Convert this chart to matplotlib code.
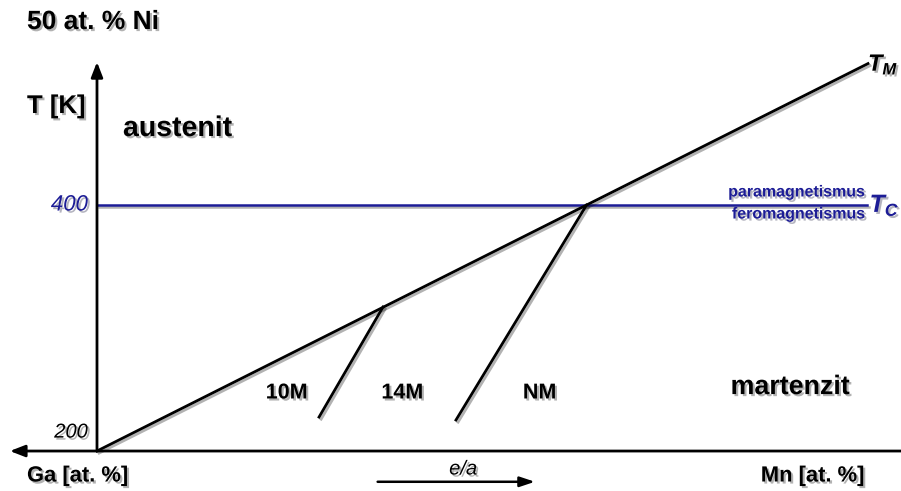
import matplotlib.pyplot as plt
import matplotlib.patheffects as pe

plt.rcParams["font.family"] = "Liberation Sans"
plt.rcParams["mathtext.fontset"] = "custom"
plt.rcParams["mathtext.it"] = "Liberation Sans:italic:bold"
plt.rcParams["mathtext.rm"] = "Liberation Sans:bold"

# schematic phase diagram, x = relative composition (0 = origin), y = T [K]
tm_x = [0, 100]
tm_T = [200, 515]
tc_x = [0, 99.9]
tc_T = [400, 400]
b10_x = [37.1, 28.8]        # 10M / 14M boundary
b10_T = [317.1, 227.6]
bnm_x = [63.5, 46.56]       # 14M / NM boundary
bnm_T = [400, 225.2]

phase_labels = ["10M", "14M", "NM"]
phase_x = [24.6, 39.6, 57.4]
phase_T = [247.2, 247.2, 247.2]

BLUE = "#1c1c96"
shadow_line = [pe.SimpleLineShadow(offset=(1.5, -1.5), alpha=0.3), pe.Normal()]
shadow_txt = [pe.withSimplePatchShadow(offset=(1.5, -1.5), alpha=0.3)]

fig = plt.figure(figsize=(9.01, 4.91), dpi=100)
ax = fig.add_axes([0, 0, 1, 1])
ax.set_xlim(-12.58, 104.28)
ax.set_ylim(167.5, 566.7)
ax.axis("off")

# axes with arrows
arrow_kw = dict(arrowstyle="-|>,head_length=0.9,head_width=0.35", color="black", lw=2,
                shrinkA=0, shrinkB=0)
ax.annotate("", xy=(0, 516.3), xytext=(0, 200), arrowprops=arrow_kw)
ax.annotate("", xy=(-11.3, 200), xytext=(104.3, 200), arrowprops=arrow_kw)
ax.annotate("", xy=(56.8, 175), xytext=(36.4, 175),
            arrowprops=dict(arrowstyle="-|>,head_length=0.9,head_width=0.3", color="black",
                            lw=1.8, shrinkA=0, shrinkB=0))

ax.plot(tc_x, tc_T, color=BLUE, lw=1.8, path_effects=shadow_line)
ax.plot(tm_x, tm_T, color="black", lw=2, path_effects=shadow_line)
ax.plot(b10_x, b10_T, color="black", lw=2, path_effects=shadow_line)
ax.plot(bnm_x, bnm_T, color="black", lw=2, path_effects=shadow_line)

bold = dict(fontweight="bold", path_effects=shadow_txt)
ax.text(-9.08, 548.8, "50 at. % Ni", fontsize=19, ha="left", va="center", **bold)
ax.text(-9.08, 480.5, "T [K]", fontsize=18.5, ha="left", va="center", **bold)
ax.text(3.37, 461.8, "austenit", fontsize=20.5, ha="left", va="center", **bold)
ax.text(89.9, 252, "martenzit", fontsize=19.3, ha="center", va="center", **bold)
for lab, x, t in zip(phase_labels, phase_x, phase_T):
    ax.text(x, t, lab, fontsize=15.5, ha="center", va="center", **bold)
ax.text(-9.08, 179.7, "Ga [at. %]", fontsize=15.8, ha="left", va="center", **bold)
ax.text(99.6, 179.7, "Mn [at. %]", fontsize=15.8, ha="right", va="center", **bold)

ax.text(-1.17, 400, "400", fontsize=16, style="italic", color=BLUE, ha="right",
        va="center", path_effects=shadow_txt)
ax.text(-1.17, 215.4, "200", fontsize=14.5, style="italic", color="black", ha="right",
        va="center", path_effects=shadow_txt)
ax.text(47.5, 185.4, "e/a", fontsize=14.5, style="italic", ha="center", va="center",
        path_effects=shadow_txt)

ax.text(99.7, 410.6, "paramagnetismus", fontsize=11.5, color=BLUE, ha="right",
        va="center", **bold)
ax.text(99.7, 392.7, "feromagnetismus", fontsize=11.5, color=BLUE, ha="right",
        va="center", **bold)
ax.text(100.2, 400, r"$T_C$", fontsize=18, color=BLUE, ha="left", va="center",
        path_effects=shadow_txt)
ax.text(100.0, 514.5, r"$T_M$", fontsize=17, color="black", ha="left", va="center",
        path_effects=shadow_txt)

fig.savefig("out.png", dpi=100)
